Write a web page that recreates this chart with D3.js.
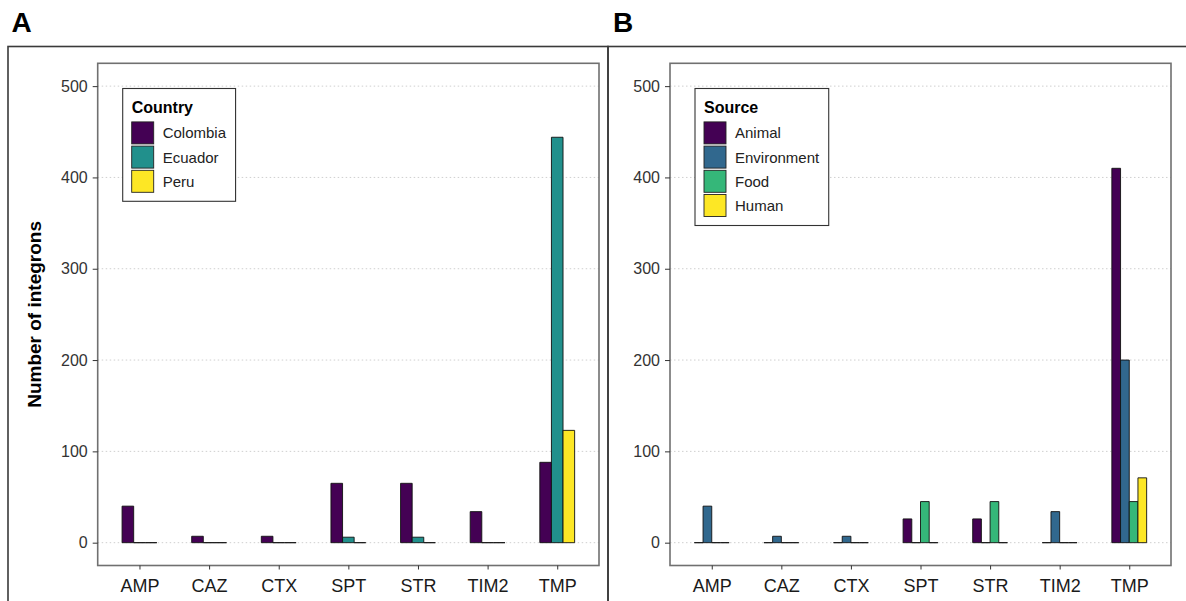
<!DOCTYPE html>
<html>
<head>
<meta charset="utf-8">
<script src="https://cdn.jsdelivr.net/npm/d3@7"></script>
<style>
  body { margin: 0; background: #fff; }
  svg { display: block; font-family: "Liberation Sans", Arial, sans-serif; }
</style>
</head>
<body>
<svg id="chart"></svg>
<script>
// data
var antibiotics = ["AMP", "CAZ", "CTX", "SPT", "STR", "TIM2", "TMP"];

var countries = ["Colombia", "Ecuador", "Peru"];
var colombia = [40, 7, 7, 65, 65, 34, 88];
var ecuador  = [0, 0, 0, 6, 6, 0, 444];
var peru     = [0, 0, 0, 0, 0, 0, 123];
var countryColors = ["#440154", "#21908C", "#FDE725"];

var sources = ["Animal", "Environment", "Food", "Human"];
var animal      = [0, 0, 0, 26, 26, 0, 410];
var environment = [40, 7, 7, 0, 0, 34, 200];
var food        = [0, 0, 0, 45, 45, 0, 45];
var human       = [0, 0, 0, 0, 0, 0, 71];
var sourceColors = ["#440154", "#31688E", "#35B779", "#FDE725"];

var yTicks = [0, 100, 200, 300, 400, 500];

var svgWidth = 1186, svgHeight = 601;

var svg = d3.select("#chart")
    .attr("width", svgWidth)
    .attr("height", svgHeight);

svg.append("rect")
    .attr("width", svgWidth).attr("height", svgHeight)
    .attr("fill", "#fff");

// outer figure frames (cropped by the image edge)
svg.append("rect")
    .attr("x", 8).attr("y", 46.5)
    .attr("width", 600).attr("height", 700)
    .attr("fill", "none").attr("stroke", "#3a3a3a").attr("stroke-width", 1.6);
svg.append("rect")
    .attr("x", 608).attr("y", 46.5)
    .attr("width", 700).attr("height", 700)
    .attr("fill", "none").attr("stroke", "#3a3a3a").attr("stroke-width", 1.6);

// panel letters
svg.append("text").attr("x", 11.5).attr("y", 32.3)
    .attr("font-size", 28).attr("font-weight", "bold").attr("fill", "#000").text("A");
svg.append("text").attr("x", 613).attr("y", 32.3)
    .attr("font-size", 28).attr("font-weight", "bold").attr("fill", "#000").text("B");

function drawPanel(opts) {
    var left = opts.left, right = opts.right, top = 63.3, bottom = 565.5;
    var g = svg.append("g");

    var x = d3.scalePoint()
        .domain(antibiotics)
        .range([left, right])
        .padding(0.6);
    var step = x.step();

    var sub = d3.scaleBand()
        .domain(opts.groups)
        .range([-step * 0.25, step * 0.25]);

    var y = d3.scaleLinear()
        .domain([-25, 525])
        .range([bottom, top]);

    // dotted grid
    g.selectAll(".grid")
        .data(yTicks)
        .enter()
        .append("line")
        .attr("x1", left).attr("x2", right)
        .attr("y1", function (d) { return y(d); })
        .attr("y2", function (d) { return y(d); })
        .attr("stroke", "#cfcfcf")
        .attr("stroke-width", 1)
        .attr("stroke-dasharray", "1.5,2.5");

    // bars, drawn as paths so zero values still show as a flat line
    var rows = [];
    opts.groups.forEach(function (grp, gi) {
        opts.series[gi].forEach(function (v, i) {
            rows.push({ cat: antibiotics[i], grp: grp, value: v, color: opts.colors[gi] });
        });
    });

    g.selectAll(".bar")
        .data(rows)
        .enter()
        .append("path")
        .attr("d", function (d) {
            var x0 = x(d.cat) + sub(d.grp);
            var x1 = x0 + sub.bandwidth();
            var y0 = y(0), y1 = y(d.value);
            return "M" + x0 + "," + y0 + "V" + y1 + "H" + x1 + "V" + y0 + "Z";
        })
        .attr("fill", function (d) { return d.color; })
        .attr("stroke", "#111")
        .attr("stroke-width", 0.9);

    // panel border
    g.append("rect")
        .attr("x", left).attr("y", top)
        .attr("width", right - left).attr("height", bottom - top)
        .attr("fill", "none")
        .attr("stroke", "#707070")
        .attr("stroke-width", 1.6);

    var yAxis = g.append("g")
        .attr("transform", "translate(" + left + ",0)")
        .call(d3.axisLeft(y).tickValues(yTicks).tickSize(5).tickPadding(5));
    yAxis.select(".domain").remove();
    yAxis.selectAll("line").attr("stroke", "#333");
    yAxis.selectAll("text")
        .attr("font-size", 16)
        .attr("font-family", "Liberation Sans, Arial, sans-serif")
        .attr("fill", "#333");

    var xAxis = g.append("g")
        .attr("transform", "translate(0," + bottom + ")")
        .call(d3.axisBottom(x).tickSize(4).tickPadding(10));
    xAxis.select(".domain").remove();
    xAxis.selectAll("line").attr("stroke", "#333");
    xAxis.selectAll("text")
        .attr("font-size", 18)
        .attr("font-family", "Liberation Sans, Arial, sans-serif")
        .attr("fill", "#1a1a1a");

    // legend
    var lx = left + 25, ly = 88.5, keySize = 22, pitch = 24.2;
    var lg = g.append("g");
    var box = lg.append("rect")
        .attr("x", lx).attr("y", ly)
        .attr("fill", "#fff")
        .attr("stroke", "#333")
        .attr("stroke-width", 1.1);
    lg.append("text")
        .attr("x", lx + 9).attr("y", ly + 24)
        .attr("font-size", 16).attr("font-weight", "bold").attr("fill", "#000")
        .text(opts.title);
    lg.selectAll(".key")
        .data(opts.groups)
        .enter()
        .append("rect")
        .attr("x", lx + 9)
        .attr("y", function (d, i) { return ly + 33.4 + i * pitch; })
        .attr("width", keySize).attr("height", keySize)
        .attr("fill", function (d, i) { return opts.colors[i]; })
        .attr("stroke", "#222").attr("stroke-width", 0.9);
    var labels = lg.selectAll(".lab")
        .data(opts.groups)
        .enter()
        .append("text")
        .attr("x", lx + 9 + keySize + 9)
        .attr("y", function (d, i) { return ly + 33.4 + i * pitch + keySize / 2 + 5.4; })
        .attr("font-size", 15).attr("fill", "#222")
        .text(function (d) { return d; });
    var maxW = 0;
    labels.each(function () { maxW = Math.max(maxW, this.getComputedTextLength()); });
    box.attr("width", 9 + keySize + 9 + maxW + 9.5)
       .attr("height", 33.4 + (opts.groups.length - 1) * pitch + keySize + 9);

    return { y: y, top: top, bottom: bottom };
}

var pA = drawPanel({
    left: 97.7, right: 599,
    groups: countries,
    series: [colombia, ecuador, peru],
    colors: countryColors,
    title: "Country"
});

drawPanel({
    left: 670, right: 1171,
    groups: sources,
    series: [animal, environment, food, human],
    colors: sourceColors,
    title: "Source"
});

// y axis title (panel A only)
svg.append("text")
    .attr("transform", "translate(40.7," + ((pA.top + pA.bottom) / 2) + ") rotate(-90)")
    .attr("text-anchor", "middle")
    .attr("font-size", 19)
    .attr("font-weight", "bold")
    .attr("fill", "#000")
    .text("Number of integrons");
</script>
</body>
</html>
